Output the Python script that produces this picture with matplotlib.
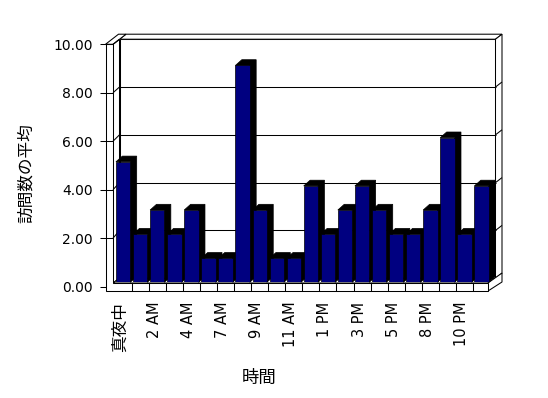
import matplotlib
matplotlib.use("Agg")
import matplotlib.pyplot as plt
import matplotlib.transforms as mtransforms
from matplotlib.patches import Polygon
from matplotlib.ticker import FormatStrFormatter

# ---------------- data ----------------
hours = ["真夜中", "1 AM", "2 AM", "3 AM", "4 AM", "6 AM", "7 AM", "8 AM",
         "9 AM", "10 AM", "11 AM", "正午", "1 PM", "2 PM", "3 PM", "4 PM",
         "5 PM", "7 PM", "8 PM", "9 PM", "10 PM", "11 PM"]
visits = [5, 2, 3, 2, 3, 1, 1, 9, 3, 1, 1, 4, 2, 3, 4, 3, 2, 2, 3, 6, 2, 4]
y_ticks = [0, 2, 4, 6, 8, 10]
y_title = "訪問数の平均"
x_title = "時間"

# ---------------- layout (pixels, top-origin) ----------------
W, H, DPI = 548, 398, 100
plt.rcParams["font.family"] = ["DejaVu Sans", "Noto Sans CJK JP"]

fig = plt.figure(figsize=(W / DPI, H / DPI), dpi=DPI)
fig.patch.set_facecolor("white")

FX_L, FX_WI, FX_R = 105.5, 113.0, 488.0        # front face x: wall outer, wall inner, floor right
F0, FS = 286.7, 24.24                          # front face: y of 0, px per unit
B0, BS = 278.2, 23.9                           # back wall: y of 0, px per unit
BX_L, BX_R = 119.5, 495.5                      # back wall surface x
D2 = (6.5, -5.0)                               # wall thickness depth vector
FLOOR_TOP, FLOOR_BOT = 283.0, 291.0
BAR_L, BAR_R, BAR0, BAR_TOP10 = 114.6, 490.1, 282.3, 41.3

LW = 0.75
frame = fig.add_axes([0, 0, 1, 1], zorder=0)
frame.set_xlim(0, W)
frame.set_ylim(H, 0)
frame.axis("off")


def poly(ax, pts, fc="white", ec="black", z=1, lw=LW):
    ax.add_patch(Polygon(pts, closed=True, facecolor=fc, edgecolor=ec,
                         linewidth=lw, zorder=z, joinstyle="miter"))


def line(ax, xs, ys, z=2):
    ax.plot(xs, ys, color="black", linewidth=LW, zorder=z,
            solid_capstyle="butt")


def yf(v):
    return F0 - v * FS


def yb(v):
    return B0 - v * BS


top_b = yb(10)
top_f = yf(10)
# back wall surface, its top and right faces
poly(frame, [(BX_L, top_b), (BX_R, top_b), (BX_R, B0), (BX_L, B0)])
poly(frame, [(BX_L, top_b), (BX_R, top_b), (BX_R + D2[0], top_b + D2[1]),
             (BX_L + D2[0], top_b + D2[1])])
poly(frame, [(BX_R, top_b), (BX_R + D2[0], top_b + D2[1]),
             (BX_R + D2[0], B0 + D2[1]), (BX_R, B0)])
# left wall: inner face, top
poly(frame, [(FX_WI, top_f), (BX_L, top_b), (BX_L, B0), (FX_WI, FLOOR_TOP)])
poly(frame, [(FX_L, top_f), (FX_WI, top_f), (BX_L + D2[0], top_b + D2[1]),
             (FX_L + (BX_L - FX_WI) + D2[0], top_b + D2[1])])
# floor: top, right side
poly(frame, [(FX_WI, FLOOR_TOP), (FX_R, FLOOR_TOP), (BX_R, B0), (BX_L, B0)])
poly(frame, [(FX_R, FLOOR_TOP), (FX_R, FLOOR_BOT),
             (FX_R + 14, FLOOR_BOT - 9), (FX_R + 14, FLOOR_TOP - 10)])
# left wall front face merged with floor front face (L shape)
poly(frame, [(FX_L, top_f), (FX_WI, top_f), (FX_WI, FLOOR_TOP), (FX_R, FLOOR_TOP),
             (FX_R, FLOOR_BOT), (FX_L, FLOOR_BOT)], z=1.5)

# gridlines on the walls + ticks on the front face
for v in y_ticks:
    line(frame, [FX_L - 6, FX_L], [yf(v), yf(v)])
    if v > 0:
        line(frame, [FX_L, FX_WI], [yf(v), yf(v)])
        line(frame, [FX_WI, BX_L], [yf(v), yb(v)])
    if 0 < v < 10:
        line(frame, [BX_L, BX_R], [yb(v), yb(v)])
        line(frame, [BX_R, BX_R + D2[0]], [yb(v), yb(v) + D2[1]])

# floor cell dividers
cat_w = (BAR_R - BAR_L) / len(hours)
for k in range(1, len(hours)):
    xd = BAR_L + k * cat_w
    line(frame, [xd, xd], [FLOOR_TOP, FLOOR_BOT], z=3)

# ---------------- bars ----------------
ax = fig.add_axes([BAR_L / W, (H - BAR0) / H, (BAR_R - BAR_L) / W,
                   (BAR0 - BAR_TOP10) / H], zorder=2)
ax.set_xlim(-0.5, len(hours) - 0.5)
ax.set_ylim(0, 10)
ax.axis("off")
ax.patch.set_alpha(0)

px_cat = (BAR_R - BAR_L) / len(hours)
px_unit = (BAR0 - BAR_TOP10) / 10
ddx, ddy = 6.4 / px_cat, 5.7 / px_unit
bw = 0.84

xs = list(range(len(hours)))
bars = ax.bar(xs, visits, width=bw, color="#000080", edgecolor="black",
              linewidth=0.5)
for k, (rect, v) in enumerate(zip(bars.patches, visits)):
    rect.set_zorder(4 + 2 * k)
    xl, xr = k - bw / 2, k + bw / 2
    ax.add_patch(Polygon([(xl, v), (xl + ddx, v + ddy), (xr + ddx, v + ddy),
                          (xr + ddx, ddy), (xr, 0), (xr, v)], closed=True,
                         facecolor="black", edgecolor="black", linewidth=0.5,
                         zorder=3 + 2 * k, clip_on=False))

# x tick labels (every other category), on the front plane
lab_tr = mtransforms.blended_transform_factory(ax.transData, fig.transFigure) + \
    mtransforms.ScaledTranslation(-3 / DPI, 0, fig.dpi_scale_trans)
for k in xs[::2]:
    s = hours[k]
    fs = 12 if any(ord(c) > 0x3000 for c in s) else 10.5
    ax.text(k, (H - 301.7) / H, s, transform=lab_tr, rotation=90,
            ha="center", va="top", fontsize=fs, clip_on=False)

# ---------------- y axis on the front face ----------------
yax = fig.add_axes([FX_L / W, (H - F0) / H, (FX_WI - FX_L) / W, (F0 - top_f) / H],
                   zorder=1)
yax.set_ylim(0, 10)
yax.set_yticks(y_ticks)
yax.yaxis.set_major_formatter(FormatStrFormatter("%.2f"))
yax.set_xticks([])
for sp in yax.spines.values():
    sp.set_visible(False)
yax.patch.set_alpha(0)
yax.tick_params(axis="y", length=0, pad=13 * 72 / DPI, labelsize=10)

fig.text(26 / W, 1 - 173 / H, y_title, rotation=90, ha="center", va="center",
         fontsize=12)
fig.text(259 / W, 1 - 377.5 / H, x_title, ha="center", va="center", fontsize=12.5)

fig.savefig("out.png", dpi=DPI, facecolor="white")
